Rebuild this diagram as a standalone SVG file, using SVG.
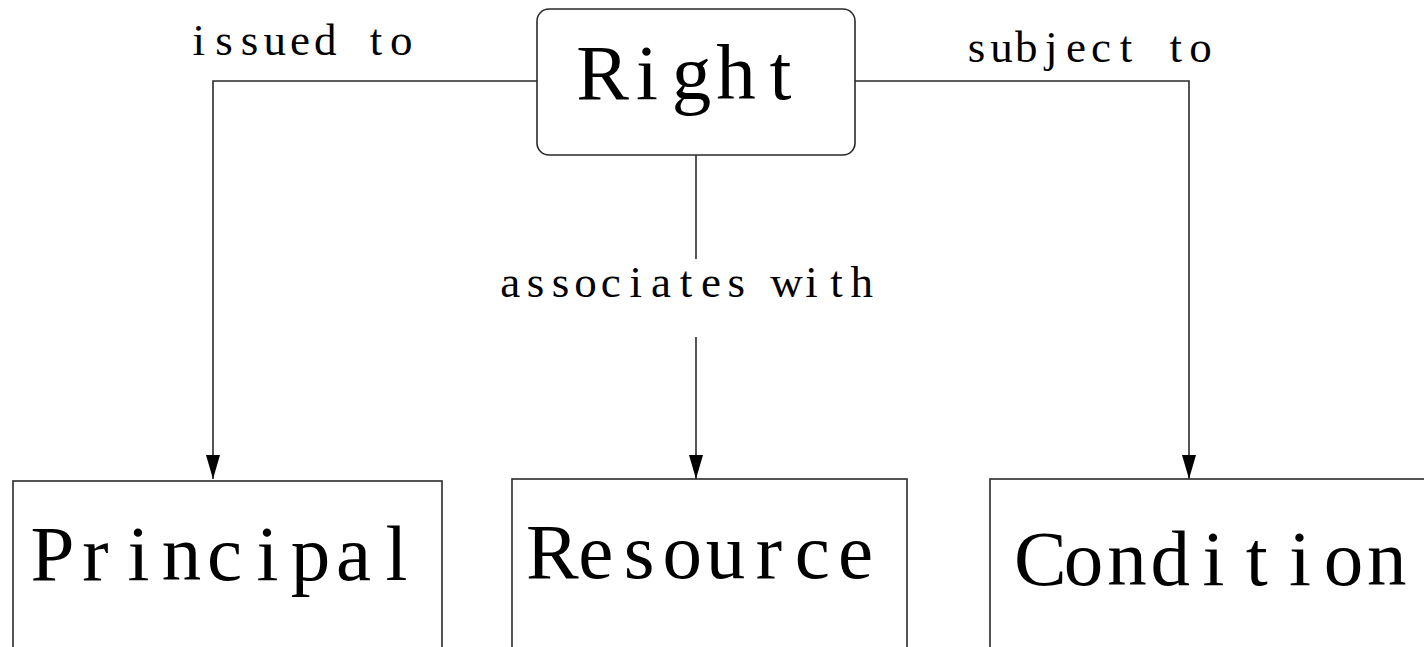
<svg xmlns="http://www.w3.org/2000/svg" width="1424" height="647" viewBox="0 0 1424 647">
  <style>
    .box { fill: #ffffff; stroke: #2a2a2a; stroke-width: 1.6; }
    .wire { fill: none; stroke: #2a2a2a; stroke-width: 1.6; }
    .big { font-family: "Liberation Serif", "DejaVu Serif", serif; font-size: 79px; fill: #000; text-anchor: middle; }
    .lbl { font-family: "Liberation Serif", "DejaVu Serif", serif; font-size: 45px; fill: #000; text-anchor: middle; }
  </style>
  <defs>
    <!-- narrow filled head, drawn along +x so orient="auto" points it down the wire -->
    <marker id="head" markerUnits="userSpaceOnUse" markerWidth="26" markerHeight="16" refX="24" refY="8" orient="auto" viewBox="0 0 26 16">
      <path d="M0,1 L0,15 L24,8 Z" fill="#000"/>
    </marker>
  </defs>

  <rect width="1424" height="647" fill="#ffffff"/>

  <!-- connectors with their labels; each glyph sits in a fixed-width cell -->
  <g id="connectors">
    <path class="wire" d="M537,81 H213 V479" marker-end="url(#head)"/>
    <path class="wire" d="M855,81 H1189 V479" marker-end="url(#head)"/>
    <path class="wire" d="M696,155 V259"/>
    <path class="wire" d="M696,337 V479" marker-end="url(#head)"/>
    <text class="lbl" x="198.8 224.1 249.4 274.7 300 325.3 350.6 375.9 401.2" y="55">issued to</text>
    <text class="lbl" x="976.5 1001.4 1026.3 1051.2 1076.1 1101 1125.9 1150.8 1175.7 1200.6" y="62">subject to</text>
    <text class="lbl" x="510.3 535.4 560.5 585.6 610.7 635.8 660.9 686 711.1 736.2 761.3 786.4 811.5 836.6 861.7" y="297">associates with</text>
  </g>

  <g id="right">
    <rect class="box" x="537" y="9" width="318" height="146" rx="12" ry="12"/>
    <text class="big" x="602.5 647 691.5 736 780.5" y="99">Right</text>
  </g>

  <g id="principal">
    <rect class="box" x="13" y="481" width="429" height="180"/>
    <text class="big" x="52.5 95.5 138.5 181.5 224.5 267.5 310.5 353.5 396.5" y="580">Principal</text>
  </g>

  <g id="resource">
    <rect class="box" x="512" y="479" width="395" height="180"/>
    <text class="big" x="552.4 595.7 639 682.3 725.6 768.9 812.2 855.5" y="578">Resource</text>
  </g>

  <g id="condition">
    <rect class="box" x="990" y="479" width="440" height="180"/>
    <text class="big" x="1040.3 1083.6 1126.9 1170.2 1213.5 1256.8 1300.1 1343.4 1386.7" y="585">Condition</text>
  </g>
</svg>
